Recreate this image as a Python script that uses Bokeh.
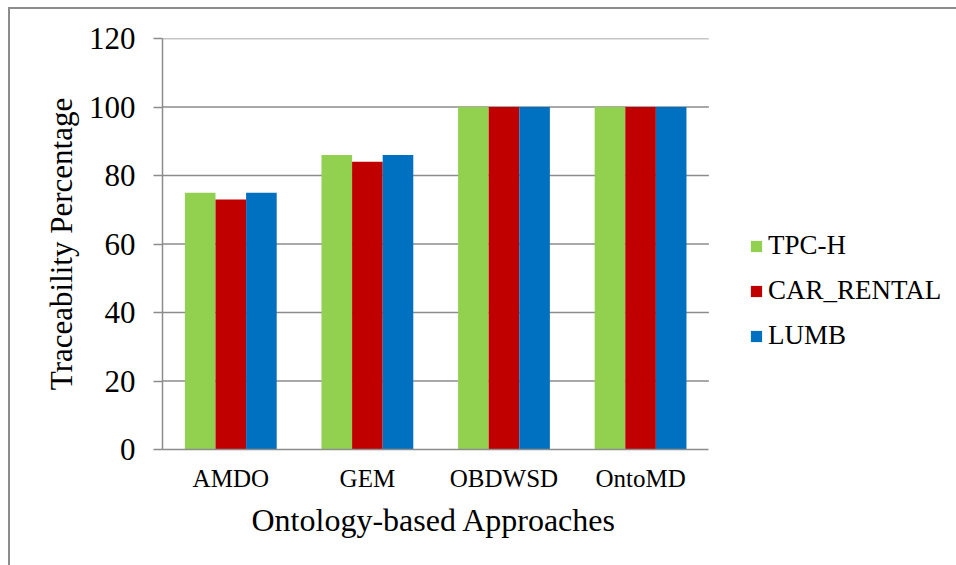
import numpy as np
from bokeh.plotting import figure
from bokeh.models import ColumnDataSource, Range1d, Legend, LegendItem, FixedTicker, Title
from bokeh.transform import dodge
from bokeh.embed import file_html
from bokeh.resources import INLINE

categories = ["AMDO", "GEM", "OBDWSD", "OntoMD"]
series_names = ["TPC-H", "CAR_RENTAL", "LUMB"]
tpch = [75, 86, 100, 100]
car_rental = [73, 84, 100, 100]
lumb = [75, 86, 100, 100]
y_ticks = [0, 20, 40, 60, 80, 100, 120]
colors = ["#92D050", "#C00000", "#0070C0"]

FONT = "Liberation Serif"
GRID = "#8c8c8c"

n = len(categories)
xc = np.arange(n) + 0.5
source = ColumnDataSource(data=dict(x=xc, tpch=tpch, car=car_rental, lumb=lumb))

W, H = 946, 557
LEFT, TOP, BOTTOM = 152, 29, 119
PLOT_W = 545  # width of the category area
x_end = n * (W - LEFT) / PLOT_W

p = figure(x_range=Range1d(0, x_end), y_range=Range1d(y_ticks[0], y_ticks[-1]),
           width=W, height=H, output_backend="svg", toolbar_location=None,
           min_border_left=LEFT, min_border_right=0, min_border_top=TOP, min_border_bottom=BOTTOM)
p.margin = (7, 0, 0, 8)
p.styles = {"border-left": "2px solid #8c8c8c", "border-top": "2px solid #8c8c8c", "box-sizing": "content-box"}

# horizontal grid lines restricted to the category area
grid_src = ColumnDataSource(data=dict(y=y_ticks[1:], x0=[0] * (len(y_ticks) - 1), x1=[n] * (len(y_ticks) - 1)))
p.segment(x0="x0", x1="x1", y0="y", y1="y", source=grid_src, line_color=GRID, line_width=1.5, level="underlay")

w = 0.224
r1 = p.vbar(x=dodge("x", -w), top="tpch", width=w, source=source, fill_color=colors[0], line_color=None)
r2 = p.vbar(x=dodge("x", 0), top="car", width=w, source=source, fill_color=colors[1], line_color=None)
r3 = p.vbar(x=dodge("x", w), top="lumb", width=w, source=source, fill_color=colors[2], line_color=None)

p.outline_line_color = None
p.xgrid.grid_line_color = None
p.ygrid.grid_line_color = None

p.yaxis.ticker = FixedTicker(ticks=y_ticks)
p.yaxis.minor_tick_line_color = None
p.yaxis.major_tick_out = 9
p.yaxis.major_tick_in = 0
p.yaxis.major_tick_line_color = GRID
p.yaxis.major_tick_line_width = 1.5
p.yaxis.axis_line_color = GRID
p.yaxis.axis_line_width = 1.5
p.yaxis.major_label_text_font = FONT
p.yaxis.major_label_text_font_size = "31px"
p.yaxis.major_label_text_color = "black"
p.yaxis.major_label_standoff = 18
p.yaxis.axis_label = "Traceability Percentage"
p.yaxis.axis_label_text_font = FONT
p.yaxis.axis_label_text_font_size = "31px"
p.yaxis.axis_label_text_font_style = "normal"
p.yaxis.axis_label_text_color = "black"
p.yaxis.axis_label_standoff = 7

p.xaxis.ticker = FixedTicker(ticks=list(xc))
p.xaxis.major_label_overrides = {float(x): c for x, c in zip(xc, categories)}
p.xaxis.bounds = (0, n)
p.xaxis.major_tick_line_color = None
p.xaxis.minor_tick_line_color = None
p.xaxis.axis_line_color = GRID
p.xaxis.axis_line_width = 1.5
p.xaxis.major_label_text_font = FONT
p.xaxis.major_label_text_font_size = "25px"
p.xaxis.major_label_text_color = "black"
p.xaxis.major_label_standoff = 9

xtitle = Title(text="Ontology-based Approaches", align="left", offset=89,
               text_font=FONT, text_font_size="32px", text_font_style="normal",
               text_color="black", standoff=11)
p.add_layout(xtitle, "below")

legend = Legend(items=[LegendItem(label=series_names[0], renderers=[r1]),
                       LegendItem(label=series_names[1], renderers=[r2]),
                       LegendItem(label=series_names[2], renderers=[r3])],
                location=(587, 98), padding=0, margin=0, spacing=14,
                glyph_width=14, glyph_height=14, label_height=31, label_standoff=5,
                label_text_font=FONT, label_text_font_size="27px", label_text_color="black",
                border_line_color=None, background_fill_alpha=0)
p.add_layout(legend, "center")

open("out.html", "w").write(file_html(p, INLINE))
